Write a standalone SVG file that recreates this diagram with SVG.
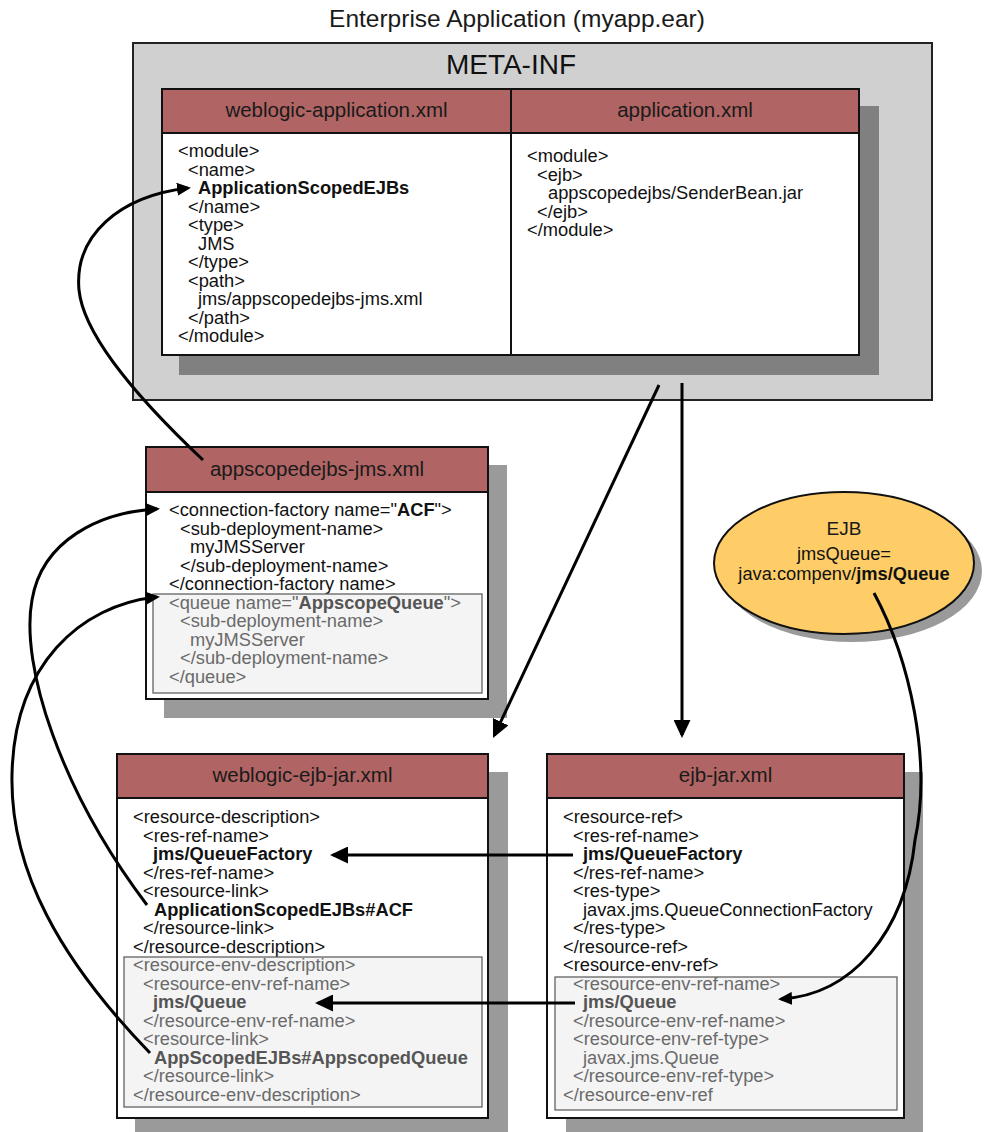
<svg xmlns="http://www.w3.org/2000/svg" width="988" height="1132" viewBox="0 0 988 1132">
<style>
text{font-family:"Liberation Sans",Arial,sans-serif;}
.t{font-size:18.3px;fill:#111;}
.g{font-size:18.3px;fill:#6a6a6a;}
.b{font-weight:bold;}
.gb{font-weight:bold;fill:#555;}
.h{font-size:20.5px;fill:#1a1a1a;text-anchor:middle;}
.hdr{fill:#b06464;stroke:#111;stroke-width:2;}
.box{fill:#fff;stroke:#111;stroke-width:2;}
.sh{fill:#9a9a9a;}
.inner{fill:#f4f4f4;stroke:#555;stroke-width:1.2;}
.c{fill:none;stroke:#000;stroke-width:3;}
</style>
<defs>
<marker id="ah" markerUnits="userSpaceOnUse" markerWidth="18" markerHeight="17" viewBox="0 0 18 17" refX="15" refY="8.5" orient="auto"><path d="M0,0 L18,8.5 L0,17 z" fill="#000"/></marker>
<marker id="ahs" markerUnits="userSpaceOnUse" markerWidth="14" markerHeight="13" viewBox="0 0 14 13" refX="11" refY="6.5" orient="auto"><path d="M0,0 L14,6.5 L0,13 z" fill="#000"/></marker>
</defs>
<rect width="988" height="1132" fill="#fff"/>
<text x="517" y="27" text-anchor="middle" style="font-size:24.5px;fill:#1a1a1a">Enterprise Application (myapp.ear)</text>

<g id="meta-inf">
<rect x="133" y="43" width="799" height="357" fill="#d0d0d0" stroke="#222" stroke-width="2"/>
<text x="511" y="74" text-anchor="middle" style="font-size:28px;fill:#111">META-INF</text>
<rect x="179" y="106" width="700" height="269" fill="#808080"/>
</g>

<g id="weblogic-application">
<rect class="box" x="162" y="89" width="349" height="266"/>
<rect class="hdr" x="162" y="89" width="349" height="44"/>
<text class="h" x="336.5" y="117">weblogic-application.xml</text>
<text class="t" x="178" y="157">&lt;module&gt;</text>
<text class="t" x="188" y="175.5">&lt;name&gt;</text>
<text class="t b" x="198" y="194">ApplicationScopedEJBs</text>
<text class="t" x="188" y="212.5">&lt;/name&gt;</text>
<text class="t" x="188" y="231">&lt;type&gt;</text>
<text class="t" x="198" y="249.5">JMS</text>
<text class="t" x="188" y="268">&lt;/type&gt;</text>
<text class="t" x="188" y="286.5">&lt;path&gt;</text>
<text class="t" x="198" y="305">jms/appscopedejbs-jms.xml</text>
<text class="t" x="188" y="323.5">&lt;/path&gt;</text>
<text class="t" x="178" y="342">&lt;/module&gt;</text>
</g>

<g id="application">
<rect class="box" x="511" y="89" width="348" height="266"/>
<rect class="hdr" x="511" y="89" width="348" height="44"/>
<text class="h" x="685" y="117">application.xml</text>
<text class="t" x="527" y="162">&lt;module&gt;</text>
<text class="t" x="537" y="180.5">&lt;ejb&gt;</text>
<text class="t" x="548" y="199">appscopedejbs/SenderBean.jar</text>
<text class="t" x="537" y="217.5">&lt;/ejb&gt;</text>
<text class="t" x="527" y="236">&lt;/module&gt;</text>
</g>

<g id="appscopedejbs-jms">
<rect class="sh" x="164" y="465" width="343" height="253"/>
<rect class="box" x="146" y="447" width="342" height="252"/>
<rect class="hdr" x="146" y="447" width="342" height="45"/>
<text class="h" x="317" y="476">appscopedejbs-jms.xml</text>
<text class="t" x="169" y="516">&lt;connection-factory name="<tspan class="b">ACF</tspan>"&gt;</text>
<text class="t" x="180" y="534.5">&lt;sub-deployment-name&gt;</text>
<text class="t" x="190" y="553">myJMSServer</text>
<text class="t" x="180" y="571.5">&lt;/sub-deployment-name&gt;</text>
<text class="t" x="169" y="590">&lt;/connection-factory name&gt;</text>
<rect class="inner" x="153" y="594" width="329" height="99"/>
<text class="g" x="169" y="608.5">&lt;queue name="<tspan class="gb">AppscopeQueue</tspan>"&gt;</text>
<text class="g" x="180" y="627">&lt;sub-deployment-name&gt;</text>
<text class="g" x="190" y="645.5">myJMSServer</text>
<text class="g" x="180" y="664">&lt;/sub-deployment-name&gt;</text>
<text class="g" x="169" y="682.5">&lt;/queue&gt;</text>
</g>

<g id="ejb">
<ellipse cx="852" cy="571" rx="130" ry="71" fill="#9a9a9a"/>
<ellipse cx="844" cy="563" rx="130" ry="71" fill="#fecd68" stroke="#111" stroke-width="2"/>
<text x="844" y="535" text-anchor="middle" style="font-size:19px;fill:#1a1a1a">EJB</text>
<text class="t" x="844" y="560" text-anchor="middle">jmsQueue=</text>
<text class="t" x="844" y="580" text-anchor="middle">java:compenv/<tspan class="b">jms/Queue</tspan></text>
</g>

<g id="weblogic-ejb-jar">
<rect class="sh" x="135" y="772" width="373" height="370"/>
<rect class="box" x="117" y="754" width="371" height="364"/>
<rect class="hdr" x="117" y="754" width="371" height="44"/>
<text class="h" x="302.5" y="782">weblogic-ejb-jar.xml</text>
<text class="t" x="133" y="823">&lt;resource-description&gt;</text>
<text class="t" x="143" y="841.5">&lt;res-ref-name&gt;</text>
<text class="t b" x="153" y="860">jms/QueueFactory</text>
<text class="t" x="143" y="878.5">&lt;/res-ref-name&gt;</text>
<text class="t" x="143" y="897">&lt;resource-link&gt;</text>
<text class="t b" x="154" y="915.5">ApplicationScopedEJBs#ACF</text>
<text class="t" x="143" y="934">&lt;/resource-link&gt;</text>
<text class="t" x="133" y="952.5">&lt;/resource-description&gt;</text>
<rect class="inner" x="124" y="957" width="358" height="150"/>
<text class="g" x="133" y="971">&lt;resource-env-description&gt;</text>
<text class="g" x="143" y="989.5">&lt;resource-env-ref-name&gt;</text>
<text class="g gb" x="153" y="1008">jms/Queue</text>
<text class="g" x="143" y="1026.5">&lt;/resource-env-ref-name&gt;</text>
<text class="g" x="143" y="1045">&lt;resource-link&gt;</text>
<text class="g gb" x="154" y="1063.5">AppScopedEJBs#AppscopedQueue</text>
<text class="g" x="143" y="1082">&lt;/resource-link&gt;</text>
<text class="g" x="133" y="1100.5">&lt;/resource-env-description&gt;</text>
</g>

<g id="ejb-jar">
<rect class="sh" x="566" y="772" width="357" height="370"/>
<rect class="box" x="547" y="754" width="357" height="364"/>
<rect class="hdr" x="547" y="754" width="357" height="44"/>
<text class="h" x="725.5" y="782">ejb-jar.xml</text>
<text class="t" x="563" y="823">&lt;resource-ref&gt;</text>
<text class="t" x="573" y="841.5">&lt;res-ref-name&gt;</text>
<text class="t b" x="583" y="860">jms/QueueFactory</text>
<text class="t" x="573" y="878.5">&lt;/res-ref-name&gt;</text>
<text class="t" x="573" y="897">&lt;res-type&gt;</text>
<text class="t" x="583" y="915.5">javax.jms.QueueConnectionFactory</text>
<text class="t" x="573" y="934">&lt;/res-type&gt;</text>
<text class="t" x="563" y="952.5">&lt;/resource-ref&gt;</text>
<text class="t" x="563" y="971">&lt;resource-env-ref&gt;</text>
<rect class="inner" x="555" y="977" width="342" height="133"/>
<text class="g" x="573" y="989.5">&lt;resource-env-ref-name&gt;</text>
<text class="g gb" x="583" y="1008">jms/Queue</text>
<text class="g" x="573" y="1026.5">&lt;/resource-env-ref-name&gt;</text>
<text class="g" x="573" y="1045">&lt;resource-env-ref-type&gt;</text>
<text class="g" x="583" y="1063.5">javax.jms.Queue</text>
<text class="g" x="573" y="1082">&lt;/resource-env-ref-type&gt;</text>
<text class="g" x="563" y="1100.5">&lt;/resource-env-ref</text>
</g>

<g id="connectors">
<path class="c" d="M659,385 L494.3,735.3" marker-end="url(#ah)"/>
<path class="c" d="M682,383 L682,735" marker-end="url(#ah)"/>
<path class="c" d="M573,855 L333,855" marker-end="url(#ah)"/>
<path class="c" d="M575,1003 L318,1003" marker-end="url(#ah)"/>
<path class="c" d="M203,460 C150,410 84,340 79,290 C74,235 120,196 188,188" marker-end="url(#ahs)"/>
<path class="c" d="M147,905 C60,790 20,665 32,600 C42,540 100,512 157,509" marker-end="url(#ahs)"/>
<path class="c" d="M150,1053 C60,960 10,870 12,775 C14,665 80,605 157,597" marker-end="url(#ahs)"/>
<path class="c" d="M874,593 C910,660 932,760 915,840 C905,935 850,995 781,999" marker-end="url(#ahs)"/>
</g>
</svg>
